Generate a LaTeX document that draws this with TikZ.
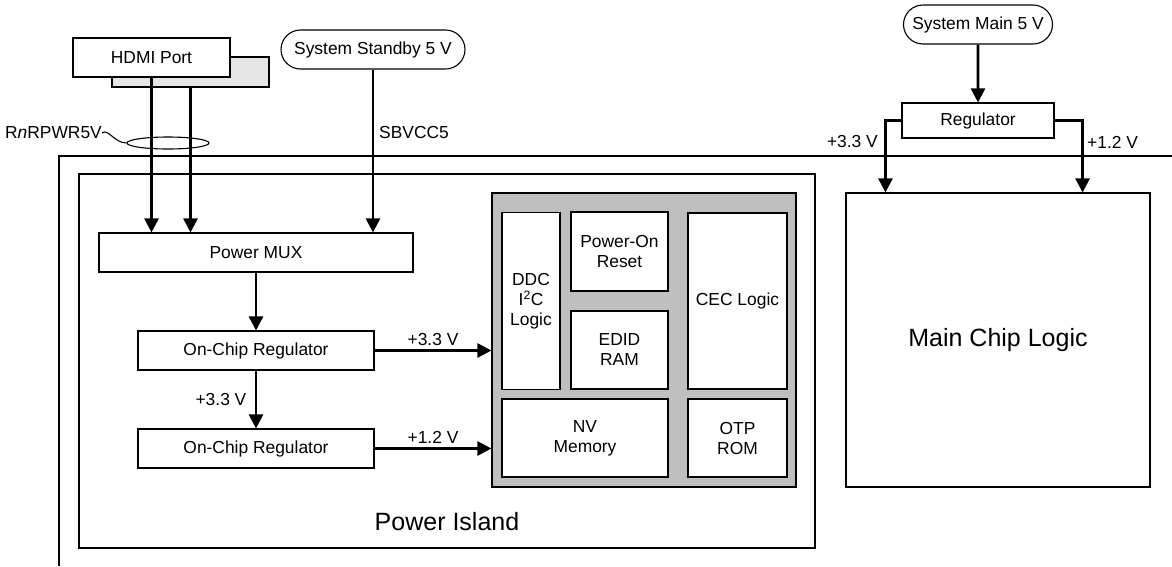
\documentclass[tikz,border=0pt]{standalone}
\usepackage{fontspec}
\setmainfont{Liberation Sans}
\usetikzlibrary{positioning}
\usetikzlibrary{arrows.meta}
\usetikzlibrary{shapes.geometric}
\usetikzlibrary{shapes.misc}
\tikzset{
    every node/.style={
        font=\fontsize{17.4}{20}\selectfont},
    block/.style={
        draw,
        line width=1.1pt,
        fill=white,
        align=center,
        inner sep=0pt},
    supply/.style={
        draw,
        line width=1.1pt,
        rounded rectangle,
        inner sep=0pt},
    lbl/.style={
        inner sep=0pt},
    bigtext/.style={
        font=\fontsize{25}{30}\selectfont},
    wire/.style={
        line width=2.6pt,
        -{Triangle[length=14pt,width=14pt]}}}

\begin{document}
\begin{tikzpicture}[x=1pt,y=-1pt]
        \useasboundingbox (0,0) rectangle (1172,566);

        % chip outline, open to the right and bottom
        \draw[line width=1.1pt] (1172,156) -| (59,566);

        \node[block,minimum width=157,minimum height=30,fill=gray!20] (hdmish) at (190.5,72) {};
        \node[block,minimum width=157,minimum height=39] (hdmi) at (151.5,57.5) {HDMI Port};
        \node[supply,minimum width=184,minimum height=39] (stby) at (373,49.5) {System Standby 5 V};
        \node[supply,minimum width=149,minimum height=39] (main5) at (978,24.5) {System Main 5 V};
        \node[block,minimum width=152,minimum height=35] (reg) at (978,120.5) {Regulator};

        \node[block,minimum width=736,minimum height=374] (island) at (447,361) {};
        \node[bigtext] (islandlbl) at (447,522) {Power Island};

        \node[block,minimum width=314,minimum height=39] (mux) at (256,252.5) {Power MUX};
        \node[block,minimum width=236,minimum height=39] (ocr1) at (256,350.5) {On-Chip Regulator};
        \node[block,minimum width=236,minimum height=39] (ocr2) at (256,448.5) {On-Chip Regulator};

        % always-on logic block
        \node[block,fill=gray!50,minimum width=304,minimum height=294] (aon) at (644,340) {};
        \node[block,minimum width=58,minimum height=177] (ddc) at (531,301) {DDC\\I\textsuperscript{2}C\\Logic};
        \node[block,minimum width=97,minimum height=79] (por) at (619.5,251.5) {Power-On\\Reset};
        \node[block,minimum width=97,minimum height=78] (edid) at (619.5,350) {EDID\\RAM};
        \node[block,minimum width=99,minimum height=176] (cec) at (737.5,301) {CEC Logic};
        \node[block,minimum width=166,minimum height=78] (nvm) at (585,438) {NV\\Memory};
        \node[block,minimum width=99,minimum height=78] (otp) at (737.5,438) {OTP\\ROM};

        \node[block,bigtext,minimum width=304,minimum height=294] (chip) at (998,340) {Main Chip Logic};

        % labels
        \node[lbl,anchor=east] (rnlbl) at (102,133) {R\textit{n}RPWR5V};
        \node[lbl,anchor=west] (sbvcc) at (379,133) {SBVCC5};
        \node[lbl,anchor=east] (m33) at (878,142) {+3.3 V};
        \node[lbl,anchor=west] (m12) at (1087,142) {+1.2 V};

        \draw[wire] (hdmi.south) -- (hdmi.south |- mux.north);
        \draw[wire] (hdmish.south) -- (hdmish.south |- mux.north);
        \draw[wire] (stby.south) -- (stby.south |- mux.north);

        \node[draw,ellipse,line width=1.1pt,minimum width=82,minimum height=12,inner sep=0pt] (bundle) at (168,143) {};
        \draw[line width=1.1pt] (rnlbl.east) .. controls +(6,-5) and +(-12,0) .. (bundle.west);

        \draw[wire] (mux) -- (ocr1);
        \draw[wire] (ocr1) -- node[left=5pt] {+3.3 V} (ocr2);
        \draw[wire] (ocr1.east) -- node[above] {+3.3 V} (ocr1.east -| aon.west);
        \draw[wire] (ocr2.east) -- node[above] {+1.2 V} (ocr2.east -| aon.west);

        \draw[wire] (main5) -- (reg);
        \draw[wire] (reg.west) -| ([xshift=40pt]chip.north west);
        \draw[wire] (reg.east) -| ([xshift=-68pt]chip.north east);
    \end{tikzpicture}
\end{document}
